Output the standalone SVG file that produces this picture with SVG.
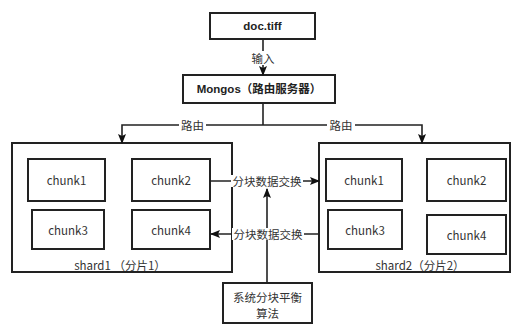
<svg xmlns="http://www.w3.org/2000/svg" width="516" height="325" viewBox="0 0 516 325">
  <defs>
    <marker id="arrw" viewBox="0 0 10 10" refX="9" refY="5" markerWidth="10" markerHeight="10" orient="auto" markerUnits="userSpaceOnUse">
      <path d="M0,1 L10,5 L0,9 L2,5 Z" fill="#111"/>
    </marker>
  </defs>
  <style>
    .box { fill: #fff; stroke: #222; stroke-width: 2; }
    .t { font-family: "Noto Sans CJK SC", "Liberation Sans", sans-serif; font-size: 11.5px; fill: #333; text-anchor: middle; dominant-baseline: central; }
    .b { font-family: "Liberation Sans", "Noto Sans CJK SC", sans-serif; font-size: 11.5px; font-weight: bold; fill: #222; text-anchor: middle; dominant-baseline: central; }
    .ln { fill: none; stroke: #222; stroke-width: 1.6; }
    .lbl { fill: #fff; }
  </style>
  <rect width="516" height="325" fill="#fff"/>

  <g id="shard1">
    <rect class="box" x="12" y="143" width="220" height="129"/>
    <text class="t" x="120" y="265">shard1 （分片1）</text>
  </g>
  <g id="shard2">
    <rect class="box" x="319" y="143" width="191" height="129"/>
    <text class="t" x="420" y="265">shard2（分片2）</text>
  </g>

  <g id="doc">
    <rect class="box" x="210" y="13" width="105" height="26"/>
    <text class="b" x="262.5" y="26">doc.tiff</text>
  </g>
  <g id="mongos">
    <rect class="box" x="183" y="75" width="152" height="28"/>
    <text class="b" x="259" y="89">Mongos（路由服务器）</text>
  </g>

  <g id="s1-chunk1"><rect class="box" x="28" y="159" width="77" height="42"/><text class="t" x="66.5" y="180">chunk1</text></g>
  <g id="s1-chunk2"><rect class="box" x="132" y="159" width="78" height="42"/><text class="t" x="171" y="180">chunk2</text></g>
  <g id="s1-chunk3"><rect class="box" x="32" y="210" width="72" height="39"/><text class="t" x="68" y="229.5">chunk3</text></g>
  <g id="s1-chunk4"><rect class="box" x="132" y="210" width="78" height="39"/><text class="t" x="171" y="229.5">chunk4</text></g>

  <g id="s2-chunk1"><rect class="box" x="326" y="159" width="76" height="42"/><text class="t" x="364" y="180">chunk1</text></g>
  <g id="s2-chunk2"><rect class="box" x="427" y="159" width="79" height="42"/><text class="t" x="466.5" y="180">chunk2</text></g>
  <g id="s2-chunk3"><rect class="box" x="328" y="210" width="74" height="39"/><text class="t" x="365" y="229.5">chunk3</text></g>
  <g id="s2-chunk4"><rect class="box" x="427" y="215" width="79" height="39"/><text class="t" x="466.5" y="234.5">chunk4</text></g>

  <g id="balancer">
    <rect class="box" x="223" y="283" width="89" height="40"/>
    <text class="t" x="267.5" y="297">系统分块平衡</text>
    <text class="t" x="267.5" y="313">算法</text>
  </g>

  <g id="connectors">
    <!-- doc.tiff to Mongos -->
    <line class="ln" x1="263" y1="39" x2="263" y2="75" marker-end="url(#arrw)"/>
    <rect class="lbl" x="249" y="51" width="28" height="14"/>
    <text class="t" x="263" y="58">输入</text>

    <!-- Mongos routing to both shards -->
    <line class="ln" x1="263" y1="103" x2="263" y2="125"/>
    <polyline class="ln" points="263,125 122,125 122,143" marker-end="url(#arrw)"/>
    <polyline class="ln" points="263,125 422,125 422,143" marker-end="url(#arrw)"/>
    <rect class="lbl" x="179" y="118" width="27" height="14"/>
    <text class="t" x="192.5" y="125">路由</text>
    <rect class="lbl" x="327" y="118" width="28" height="14"/>
    <text class="t" x="341" y="125">路由</text>

    <!-- balancer upward -->
    <line class="ln" x1="267" y1="283" x2="267" y2="189" marker-end="url(#arrw)"/>

    <!-- chunk exchange shard1 -> shard2 -->
    <line class="ln" x1="210" y1="181" x2="319" y2="181" marker-end="url(#arrw)"/>
    <rect class="lbl" x="231" y="175" width="72" height="12"/>
    <text class="t" x="267" y="181">分块数据交换</text>

    <!-- chunk exchange shard2 -> shard1 -->
    <line class="ln" x1="319" y1="234" x2="211" y2="234" marker-end="url(#arrw)"/>
    <rect class="lbl" x="232" y="228" width="72" height="12"/>
    <text class="t" x="268" y="234">分块数据交换</text>
  </g>
</svg>
